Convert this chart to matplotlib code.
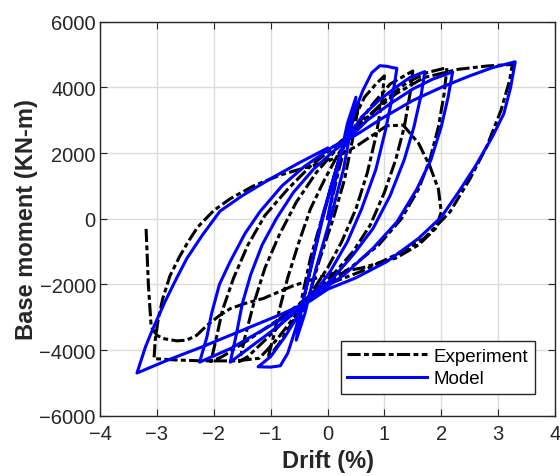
import matplotlib.pyplot as plt
import numpy as np

plt.rcParams['font.family'] = ['Liberation Sans', 'DejaVu Sans']

# Experiment (black dash-dot), drift in %, moment in kN-m, read along the path
exp_drift = [0, 0.2, 0.4, 0.55, 0.45, 0.3, 0.1, -0.15, -0.35, -0.55,
             -0.45, -0.3, -0.1, 0.15, 0.4, 0.65, 0.85, 1.0,
             0.95, 0.85, 0.7, 0.5, 0.25, 0.0, -0.3, -0.6, -0.85, -1.05,
             -0.95, -0.85, -0.7, -0.5, -0.3, -0.05, 0.2, 0.5, 0.8, 1.1, 1.5,
             1.45, 1.35, 1.2, 1.0, 0.75, 0.45, 0.1, -0.3, -0.7, -1.1, -1.4, -1.55,
             -1.45, -1.3, -1.1, -0.85, -0.55, -0.2, 0.2, 0.6, 1.0, 1.4, 1.75, 2.1,
             2.05, 1.95, 1.8, 1.6, 1.3, 0.9, 0.4, -0.2, -0.8, -1.4, -1.85, -2.05,
             -1.95, -1.85, -1.65, -1.4, -1.1, -0.7, -0.3, 0.2, 0.7, 1.2, 1.7, 2.3, 2.8, 3.25,
             3.2, 3.05, 2.8, 2.5, 2.15, 1.7, 1.2, 0.6, 0.0, -0.5, -0.9, -1.2, -1.6, -2.2, -2.7, -3.05,
             -3.03, -2.98, -2.9, -2.77, -2.6, -2.45, -2.28, -2.0, -1.71, -1.3, -0.83, -0.4, 0.0, 0.5, 1.04, 1.33,
             1.6, 1.8, 1.95, 2.0, 1.9, 1.6, 1.2, 0.6, 0.0, -0.6, -1.13, -1.45, -1.71, -1.9, -2.12,
             -2.3, -2.48, -2.65, -2.89, -3.0, -3.1, -3.15, -3.19]
exp_moment = [0, 1500, 2800, 3500, 2500, 1200, 0, -1300, -2500, -3400,
              -2400, -1200, 0, 1500, 2800, 3700, 4100, 4350,
              3500, 2500, 1400, 300, -700, -1500, -2300, -3100, -3800, -4250,
              -3600, -2800, -1800, -700, 300, 1200, 2000, 2800, 3500, 4100, 4500,
              3800, 2800, 1800, 800, -200, -1000, -1700, -2300, -3000, -3700, -4200, -4350,
              -3600, -2600, -1500, -500, 500, 1400, 2200, 2900, 3600, 4150, 4450, 4600,
              3800, 2800, 1800, 900, 0, -800, -1500, -2200, -3000, -3700, -4200, -4350,
              -3600, -2800, -1800, -800, 100, 900, 1600, 2300, 3100, 3800, 4300, 4550, 4650, 4700,
              4200, 3300, 2200, 1200, 200, -600, -1100, -1600, -2000, -2800, -3700, -4250, -4330, -4330, -4300, -4260,
              -3700, -3100, -2450, -1740, -1150, -700, -250, 250, 610, 1000, 1330, 1550, 1740, 2200, 2830, 2850,
              2300, 1600, 900, 200, -300, -800, -1200, -1500, -1700, -2040, -2430, -2580, -2740, -2950, -3250,
              -3550, -3700, -3720, -3650, -3550, -3300, -2000, -300]

# Model (blue solid)
mod_drift = [0, 0.2, 0.35, 0.5, 0.42, 0.28, 0.05, -0.2, -0.4, -0.55,
             -0.45, -0.3, -0.1, 0.15, 0.4, 0.62, 0.78, 0.92, 1.05, 1.15, 1.22,
             1.15, 1.02, 0.85, 0.6, 0.35, 0.05, -0.25, -0.5, -0.75, -1.0, -1.22, -1.0, -0.83,
             -0.7, -0.55, -0.4, -0.25, -0.1, 0.05, 0.2, 0.35, 0.6, 0.9, 1.2, 1.45, 1.71,
             1.65, 1.52, 1.35, 1.1, 0.8, 0.45, 0.1, -0.25, -0.6, -1.0, -1.35, -1.71,
             -1.6, -1.5, -1.35, -1.15, -0.9, -0.6, -0.25, 0.1, 0.35, 0.7, 1.1, 1.5, 1.85, 2.2,
             2.12, 2.0, 1.82, 1.57, 1.22, 0.8, 0.3, -0.2, -0.7, -1.2, -1.7, -2.25,
             -2.12, -2.04, -1.9, -1.71, -1.45, -1.19, -0.8, -0.4, 0.1, 0.5, 1.0, 1.5, 2.0, 2.5, 2.9, 3.3,
             3.22, 3.1, 2.9, 2.6, 2.3, 2.0, 1.6, 1.05, 0.5, 0.0, -0.3, -0.8, -1.5, -2.2, -2.8, -3.35,
             -3.2, -3.07, -2.85, -2.65, -2.47, -2.2, -1.89, -1.5, -1.0, -0.5, 0.0]
mod_moment = [0, 1700, 2900, 3700, 2800, 1500, 0, -1500, -2900, -3700,
              -2700, -1500, 0, 1500, 2900, 3900, 4450, 4660, 4640, 4600, 4580,
              3800, 2700, 1500, 300, -700, -1600, -2300, -2900, -3600, -4200, -4510, -4520, -4480,
              -4100, -3300, -2300, -1200, -100, 900, 1800, 2450, 3100, 3600, 4000, 4300, 4480,
              3800, 2800, 1800, 700, -300, -1100, -1800, -2350, -2900, -3450, -3900, -4370,
              -3500, -2600, -1700, -800, 0, 800, 1500, 2050, 2400, 3000, 3500, 3950, 4250, 4470,
              3700, 2800, 1800, 900, -100, -900, -1700, -2300, -2950, -3450, -3950, -4370,
              -3600, -2900, -2000, -1300, -450, 210, 1000, 1600, 2200, 2550, 3100, 3600, 4000, 4350, 4600, 4780,
              4000, 3200, 2500, 1600, 800, 50, -600, -1300, -1800, -2150, -2500, -2900, -3400, -3900, -4300, -4700,
              -3900, -3350, -2500, -1800, -1200, -500, 230, 700, 1220, 1700, 2150]

fig = plt.figure(figsize=(5.6, 4.77), dpi=100)
ax = fig.add_axes([0.1786, 0.1264, 0.8125, 0.826])

ax.plot(exp_drift, exp_moment, color='black', linewidth=2.2,
        dashes=(4.3, 1.1, 1.6, 1.1), label='Experiment', zorder=3)
ax.plot(mod_drift, mod_moment, color=(0, 0, 1), linewidth=2.2,
        label='Model', zorder=4)

ax.set_xlim(-4, 4)
ax.set_ylim(-6000, 6000)
ax.set_xticks(np.arange(-4, 5, 1))
ax.set_yticks(np.arange(-6000, 6001, 2000))
ax.grid(True, color='#dcdcdc', linewidth=1)
ax.set_axisbelow(True)
ax.tick_params(direction='in', top=True, right=True, labelsize=14.5,
               length=5, colors='#262626')
ax.tick_params(axis='x', pad=6)
ax.tick_params(axis='y', pad=3)
for s in ax.spines.values():
    s.set_linewidth(1.0)
    s.set_color('#262626')

ax.set_xlabel('Drift (%)', fontsize=17, fontweight='bold', color='#262626', labelpad=4)
ax.set_ylabel('Base moment (KN-m)', fontsize=17, fontweight='bold', color='#262626', labelpad=1)

leg = ax.legend(loc='lower right', bbox_to_anchor=(0.956, 0.055), borderaxespad=0,
                fontsize=13.5, handlelength=4.27, handletextpad=0.35, fancybox=False,
                framealpha=1, borderpad=0.35, labelspacing=0.3)
leg.get_frame().set_edgecolor('#262626')
leg.get_frame().set_linewidth(1.0)

fig.savefig('out.png', dpi=100)
